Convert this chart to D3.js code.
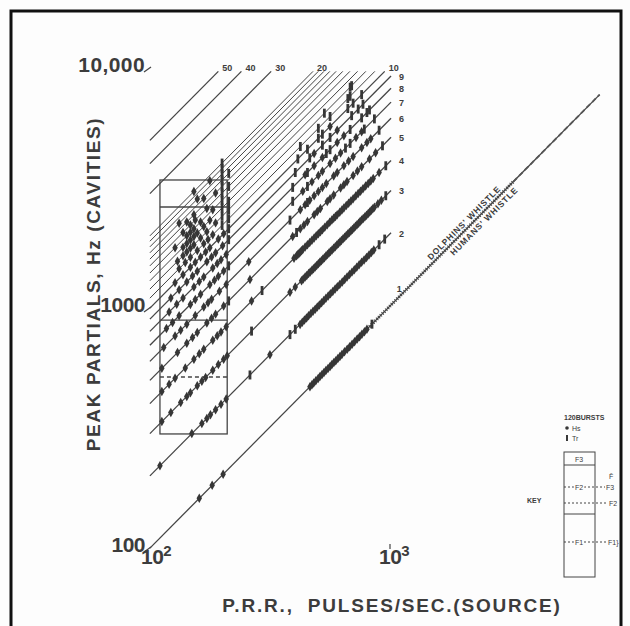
<!doctype html>
<html lang="en">
<head>
  <meta charset="utf-8">
  <title>Peak partials vs pulse repetition rate</title>
  <script src="https://d3js.org/d3.v7.min.js"></script>
  <style>
    body { margin: 0; background: #fff; }
    text { font-family: "Liberation Sans", Arial, sans-serif; fill: #3c3c3c; }
  </style>
</head>
<body>
<svg id="chart" width="630" height="626"></svg>
<script>
// harmonic lines, f = n * prr
var harmonics = [1,2,3,4,5,6,7,8,9,10,11,12,13,14,15,16,17,18,19,20,30,40,50];
var lineLabels = [1,2,3,4,5,6,7,8,9,10,20,30,40,50];

// Hs (dots) and Tr (bars), as P.R.R. values
var hs1 = [158,179,199,461,470,478,488,499,508,518,528,538,549,560,570,581,592,604,616,628,644,661,677,693,710,728,745,762,781,800];
var tr1 = [840];
var hs2 = [108,147,162,170,176,185,195,205,313,419,428,437,446,455,465,475,485,495,505,516,527,538,550,562,575,588,601,615,630,645,660,676,692,708,725,742,760,778,797,816,835,855];
var tr2 = [258,380,400,900,950];
var hs3 = [110,120,132,140,145,155,162,168,180,190,200,207,380,400,425,432,440,447,455,462,470,477,485,492,500,507,515,522,530,538,546,554,562,571,580,589,598,607,616,625,635,645,655,665,675,685,695,705,716,727,738,749,760,772,785,797,810,822,835,847,860,890,920];
var tr3 = [262,960];
var hs4 = [110,118,125,138,150,158,165,180,188,195,205,262,395,405,410,415,420,425,430,440,450,460,470,480,490,500,510,520,532,545,558,570,580,590,600,615,628,640,655,670,685,700,718,735,752,770,790,810,830,850,900];
var tr4 = [290,960];
var hs5 = [110,128,140,148,155,170,178,185,200,258,390,420,435,450,480,495,510,545,560,580,620,640,660,700,730,760,820,870];
var tr5 = [210,405,930];
var hs6 = [112,125,132,140,152,165,172,178,192,205,255,420,440,460,480,500,520,540,580,600,640,670,700,760,800,830];
var tr6 = [380,450,900];
var hs7 = [115,122,130,145,152,160,175,183,190,200,430,470,500,520,560,590,620,720,760];
var tr7 = [210,390,450,650,680,780,860];
var hs8 = [118,127,135,150,158,165,180,188,195,205,440,480,520,600,640];
var tr8 = [390,450,540,560,680,760,800,820];
var hs9 = [120,130,140,148,155,170,178,185,198,480,600];
var tr9 = [210,400,460,520,560,690,735,770];
var hs10 = [125,135,145,152,160,168,175,190,200,560];
var tr10 = [210,410,450,500,520,665,700,760];
var hs11 = [130,138,145,155,165,172,180];
var tr11 = [197,210,420,500,560,665,680];
var hs12 = [128,135,140,145,150,160,170,185];
var tr12 = [197,210,530,680,690];
var hs13 = [135,140,145,150,155,165,175];
var tr13 = [197,210];
var hs14 = [125,140,145,150,160,180];
var tr14 = [197];
var hs15 = [135,145,152,170];
var tr15 = [197,210];
var hs16 = [140,150,185];
var tr16 = [197];
var hs17 = [130,165];
var tr17 = [197,210];
var hs18 = [155];
var tr18 = [197];
var hs19 = [175];
var tr19 = [197];
var hs20 = [150];
var tr20 = [197];

var hsLists = [hs1,hs2,hs3,hs4,hs5,hs6,hs7,hs8,hs9,hs10,hs11,hs12,hs13,hs14,hs15,hs16,hs17,hs18,hs19,hs20];
var trLists = [tr1,tr2,tr3,tr4,tr5,tr6,tr7,tr8,tr9,tr10,tr11,tr12,tr13,tr14,tr15,tr16,tr17,tr18,tr19,tr20];

// whistle band along the first harmonic (P.R.R.)
var whistleDense = [820, 3300];
var whistleSparse = [3300, 7600];

// formant box (P.R.R. range, Hz levels)
var boxPrr = [108, 207];
var boxHz = [293, 3350];
var boxSolid = [2585, 874];
var boxDashed = [506];

var svg = d3.select("#chart");

// page + frame
svg.append("rect").attr("width", 630).attr("height", 626).attr("fill", "#fdfdfd");
svg.append("rect").attr("x", 11).attr("y", 11).attr("width", 610).attr("height", 640)
  .attr("fill", "none").attr("stroke", "#111").attr("stroke-width", 3);

var x = d3.scaleLog().domain([100, 1000]).range([152, 390]);
var y = d3.scaleLog().domain([100, 10000]).range([546, 66]);

function lineEnd(n) {
  if (n == 1) return 7600;
  if (n <= 9) return 1010;
  return 9500 / n;
}

// harmonic lines
svg.append("g").selectAll("line")
  .data(harmonics)
  .enter().append("line")
    .attr("x1", function(n) { return x(98); })
    .attr("y1", function(n) { return y(98 * n); })
    .attr("x2", function(n) { return x(lineEnd(n)); })
    .attr("y2", function(n) { return y(lineEnd(n) * n); })
    .attr("stroke", "#444")
    .attr("stroke-width", function(n) { return (n > 10 && n < 30) ? 1 : 1.3; });

// whistle marks on harmonic 1
svg.append("line")
  .attr("x1", x(whistleDense[0])).attr("y1", y(whistleDense[0]))
  .attr("x2", x(whistleDense[1])).attr("y2", y(whistleDense[1]))
  .attr("stroke", "#444").attr("stroke-width", 3.5).attr("stroke-dasharray", "1,1.6");
svg.append("line")
  .attr("x1", x(whistleSparse[0])).attr("y1", y(whistleSparse[0]))
  .attr("x2", x(whistleSparse[1])).attr("y2", y(whistleSparse[1]))
  .attr("stroke", "#555").attr("stroke-width", 1.8).attr("stroke-dasharray", "5,3");

// formant box
var box = svg.append("g").attr("stroke", "#444").attr("fill", "none").attr("stroke-width", 1.3);
box.append("rect")
  .attr("x", x(boxPrr[0])).attr("y", y(boxHz[1]))
  .attr("width", x(boxPrr[1]) - x(boxPrr[0]))
  .attr("height", y(boxHz[0]) - y(boxHz[1]));
box.selectAll(".solid").data(boxSolid).enter().append("line")
  .attr("x1", x(boxPrr[0])).attr("x2", x(boxPrr[1]))
  .attr("y1", function(d) { return y(d); }).attr("y2", function(d) { return y(d); });
box.selectAll(".dash").data(boxDashed).enter().append("line")
  .attr("x1", x(boxPrr[0])).attr("x2", x(boxPrr[1]))
  .attr("y1", function(d) { return y(d); }).attr("y2", function(d) { return y(d); })
  .attr("stroke-dasharray", "4,3");

// build point tables
var hsPts = [], trPts = [];
hsLists.forEach(function(list, i) {
  list.forEach(function(p) { hsPts.push({ n: i + 1, prr: p }); });
});
trLists.forEach(function(list, i) {
  list.forEach(function(p) { trPts.push({ n: i + 1, prr: p }); });
});

var diamond = d3.symbol().type(d3.symbolDiamond).size(26);
svg.append("g").selectAll("path")
  .data(hsPts)
  .enter().append("path")
    .attr("transform", function(d) { return "translate(" + x(d.prr) + "," + y(d.prr * d.n) + ")"; })
    .attr("d", diamond)
    .attr("fill", "#363636");

svg.append("g").selectAll("rect")
  .data(trPts)
  .enter().append("rect")
    .attr("x", function(d) { return x(d.prr) - 1.4; })
    .attr("y", function(d) { return y(d.prr * d.n) - 4.5; })
    .attr("width", 2.8)
    .attr("height", 9)
    .attr("fill", "#363636");

// line labels
svg.append("g").selectAll("text")
  .data(lineLabels)
  .enter().append("text")
    .attr("x", function(n) {
      if (n == 1) return x(1110) - 4;
      if (n <= 9) return x(1010) + 8;
      return x(lineEnd(n)) + 4;
    })
    .attr("y", function(n) {
      if (n == 1) return y(1110) - 3;
      if (n <= 9) return y(1010 * n) + 4;
      return 71;
    })
    .attr("font-size", 9)
    .attr("font-weight", "bold")
    .text(function(n) { return n; });

// whistle captions
var ang = Math.atan2(y(7600) - y(100), x(7600) - x(100)) * 180 / Math.PI;
svg.append("text")
  .attr("transform", "translate(" + x(1516) + "," + y(1516) + ") rotate(" + ang + ")")
  .attr("y", -3).attr("font-size", 8.5).attr("font-weight", "bold").attr("letter-spacing", 0.8)
  .text("DOLPHINS' WHISTLE");
svg.append("text")
  .attr("transform", "translate(" + x(1730) + "," + y(1730) + ") rotate(" + ang + ")")
  .attr("y", 10).attr("font-size", 8.5).attr("font-weight", "bold").attr("letter-spacing", 0.8)
  .text("HUMANS' WHISTLE");

// axis tick labels
var yTicks = [100, 1000, 10000];
var yTickText = ["100", "1000", "10,000"];
svg.append("g").selectAll("text")
  .data(yTicks)
  .enter().append("text")
    .attr("x", 145)
    .attr("y", function(d) { return y(d) + 6; })
    .attr("text-anchor", "end")
    .attr("font-size", 21)
    .attr("font-weight", "bold")
    .attr("letter-spacing", function(d) { return d == 10000 ? 0.4 : -0.5; })
    .text(function(d, i) { return yTickText[i]; });
svg.append("g").selectAll("line")
  .data(yTicks)
  .enter().append("line")
    .attr("x1", 144).attr("x2", 151)
    .attr("y1", function(d) { return y(d) + 6; })
    .attr("y2", function(d) { return y(d) + 1; })
    .attr("stroke", "#444").attr("stroke-width", 1.3);

var xTicks = [100, 1000];
var xTickExp = ["2", "3"];
var xt = svg.append("g").selectAll("text")
  .data(xTicks)
  .enter().append("text")
    .attr("x", function(d) { return x(d) - 11; })
    .attr("y", 564)
    .attr("font-size", 21)
    .attr("font-weight", "bold")
    .attr("letter-spacing", -0.5);
xt.append("tspan").text("10");
xt.append("tspan").attr("dy", -8).attr("font-size", 15).text(function(d, i) { return xTickExp[i]; });
svg.append("line").attr("x1", x(1000)).attr("x2", x(1000)).attr("y1", 544).attr("y2", 549)
  .attr("stroke", "#444").attr("stroke-width", 1.2);

// axis titles
svg.append("text")
  .attr("x", 392).attr("y", 612)
  .attr("text-anchor", "middle")
  .attr("font-size", 19).attr("font-weight", "bold")
  .attr("letter-spacing", 1.8)
  .style("white-space", "pre")
  .text("P.R.R.,  PULSES/SEC.(SOURCE)");
svg.append("text")
  .attr("transform", "translate(100,284) rotate(-90)")
  .attr("text-anchor", "middle")
  .attr("font-size", 19).attr("font-weight", "bold")
  .attr("letter-spacing", 1.6)
  .text("PEAK PARTIALS, Hz (CAVITIES)");

// key
var key = svg.append("g");
key.append("text").attr("x", 564).attr("y", 420).attr("font-size", 7).attr("font-weight", "bold").text("120BURSTS");
key.append("circle").attr("cx", 567).attr("cy", 428).attr("r", 1.8).attr("fill", "#383838");
key.append("text").attr("x", 572).attr("y", 431).attr("font-size", 7).text("Hs");
key.append("rect").attr("x", 566).attr("y", 435).attr("width", 2).attr("height", 6).attr("fill", "#383838");
key.append("text").attr("x", 572).attr("y", 441).attr("font-size", 7).text("Tr");
var kg = key.append("g").attr("stroke", "#444").attr("fill", "none").attr("stroke-width", 1);
kg.append("rect").attr("x", 564).attr("y", 452).attr("width", 31).attr("height", 125);
kg.append("line").attr("x1", 564).attr("x2", 595).attr("y1", 465).attr("y2", 465);
kg.append("line").attr("x1", 564).attr("x2", 595).attr("y1", 514).attr("y2", 514);
kg.append("line").attr("x1", 564).attr("x2", 605).attr("y1", 487).attr("y2", 487).attr("stroke-dasharray", "2,2");
kg.append("line").attr("x1", 564).attr("x2", 608).attr("y1", 503).attr("y2", 503).attr("stroke-dasharray", "2,2");
kg.append("line").attr("x1", 564).attr("x2", 607).attr("y1", 542).attr("y2", 542).attr("stroke-dasharray", "2,2");
key.append("text").attr("x", 579).attr("y", 462).attr("text-anchor", "middle").attr("font-size", 7).text("F3");
key.append("text").attr("x", 579).attr("y", 490).attr("text-anchor", "middle").attr("font-size", 7).style("paint-order", "stroke").attr("stroke", "#fdfdfd").attr("stroke-width", 3).text("F2");
key.append("text").attr("x", 579).attr("y", 545).attr("text-anchor", "middle").attr("font-size", 7).style("paint-order", "stroke").attr("stroke", "#fdfdfd").attr("stroke-width", 3).text("F1");
key.append("text").attr("x", 606).attr("y", 490).attr("font-size", 7).text("F3");
key.append("text").attr("x", 609).attr("y", 506).attr("font-size", 7).text("F2");
key.append("text").attr("x", 608).attr("y", 545).attr("font-size", 7).text("F1}");
key.append("text").attr("x", 609).attr("y", 479).attr("font-size", 7).text("F̄");
key.append("text").attr("x", 527).attr("y", 503).attr("font-size", 7).attr("font-weight", "bold").text("KEY");
</script>
</body>
</html>
